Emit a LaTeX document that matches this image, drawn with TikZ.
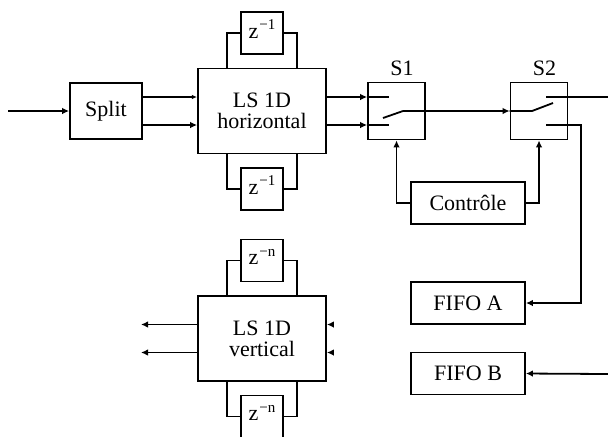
\documentclass[tikz,border=0pt]{standalone}
\usepackage{fontspec}
\setmainfont{Liberation Serif}
\usetikzlibrary{calc,arrows.meta}
\newcommand\zpow[1]{\rule[-3.7pt]{0pt}{3.7pt}z\kern0.4pt\raisebox{4.3pt}{\fontsize{7.5}{8}\selectfont −#1}}
\begin{document}
\begin{tikzpicture}[x=0.5pt,y=-0.5pt,
  every node/.style={font=\fontsize{11}{10.5}\selectfont},
  blk/.style={draw,line width=0.9pt,inner sep=0pt,align=center},
  zbox/.style={blk,minimum width=21pt,minimum height=21pt},
  lsbox/.style={blk,minimum width=64pt,minimum height=42.5pt},
  wbox/.style={blk,minimum width=57pt,minimum height=21pt},
  swbox/.style={blk,minimum width=28.5pt,minimum height=28.5pt},
  lbl/.style={anchor=south,xshift=2.75pt,inner sep=2.8pt},
  conn/.style={line width=0.9pt},
  arr/.style={conn,-{Latex[length=3.5pt,width=3.3pt]}},
  sarr/.style={conn,-{Latex[length=2.6pt,width=2.2pt]}},
]
\path[use as bounding box,clip] (0,0) rectangle (608,436);

% top row
\node[blk,minimum width=36pt,minimum height=28pt] (split) at (106,111) {Split};
\node[lsbox] (lsh) at (262,111) {LS 1D\\horizontal};
\node[zbox] (zh1) at (262,33) {\zpow{1}};
\node[zbox] (zh2) at (262,189) {\zpow{1}};
\node[swbox] (s1) at (396.5,111) {};
\node[swbox] (s2) at (539,111) {};
\node[lbl] (s1l) at (s1.north) {S1};
\node[lbl] (s2l) at (s2.north) {S2};
\node[wbox] (ctrl) at (468,203) {Contrôle};
\node[wbox] (fifoa) at (468,303) {FIFO A};
\node[wbox] (fifob) at (468,373.5) {FIFO B};

% vertical block
\node[lsbox] (lsv) at (262,338.5) {LS 1D\\vertical};
\node[zbox] (zv1) at (262,260.5) {\zpow{n}};
\node[zbox] (zv2) at (262,416.5) {\zpow{n}};

% loops
\draw[conn] ($(lsh.north)+(-35,0)$) |- (zh1.west);
\draw[conn] (zh1.east) -| ($(lsh.north)+(35,0)$);
\draw[conn] ($(lsh.south)+(-35,0)$) |- (zh2.west);
\draw[conn] (zh2.east) -| ($(lsh.south)+(35,0)$);
\draw[conn] ($(lsv.north)+(-35,0)$) |- (zv1.west);
\draw[conn] (zv1.east) -| ($(lsv.north)+(35,0)$);
\draw[conn] ($(lsv.south)+(-35,0)$) |- (zv2.west);
\draw[conn] (zv2.east) -| ($(lsv.south)+(35,0)$);

% input and horizontal flow
\coordinate (in) at (8,111);
\draw[arr] (in) -- (split.west);
\draw[sarr] ($(split.east)+(0,-14)$) -- ($(lsh.west)+(0,-14)$);
\draw[arr] ($(split.east)+(0,14)$) -- ($(lsh.west)+(0,14)$);
\draw[arr] ($(lsh.east)+(0,-14)$) -- ($(s1.west)+(0,-14)$);
\draw[arr] ($(lsh.east)+(0,14)$) -- ($(s1.west)+(0,14)$);

% switch S1
\draw[conn] ($(s1.west)+(0,-14)$) -- ++(22,0);
\draw[conn] ($(s1.west)+(0,14)$) -- ++(22,0);
\coordinate (s1p) at (403,111);
\draw[conn] (383,118) -- (s1p);
\draw[arr] (s1p) -- (s2.west);

% switch S2
\coordinate (s2p) at (532,111);
\draw[conn] (s2.west) -- (s2p) -- (553,103);
\coordinate (out) at (608,97);
\draw[conn] (546,97) -- (out);
\coordinate (turn) at (581,125);
\draw[arr] (546,125) -- (turn) |- (fifoa.east);

% control
\draw[arr] (ctrl.west) -| (s1.south);
\draw[arr] (ctrl.east) -| (s2.south);

% FIFO B input
\coordinate (inb) at (608,374);
\draw[arr] (inb) -- (fifob.east);

% vertical block arrows
\coordinate (o1) at (141,324.5);
\coordinate (o2) at (141,352.5);
\draw[arr] ($(lsv.west)+(0,-14)$) -- (o1);
\draw[arr] ($(lsv.west)+(0,14)$) -- (o2);
\draw[arr] ($(lsv.east)+(7,-14)$) -- ($(lsv.east)+(0,-14)$);
\draw[arr] ($(lsv.east)+(7,14)$) -- ($(lsv.east)+(0,14)$);
\end{tikzpicture}
\end{document}
